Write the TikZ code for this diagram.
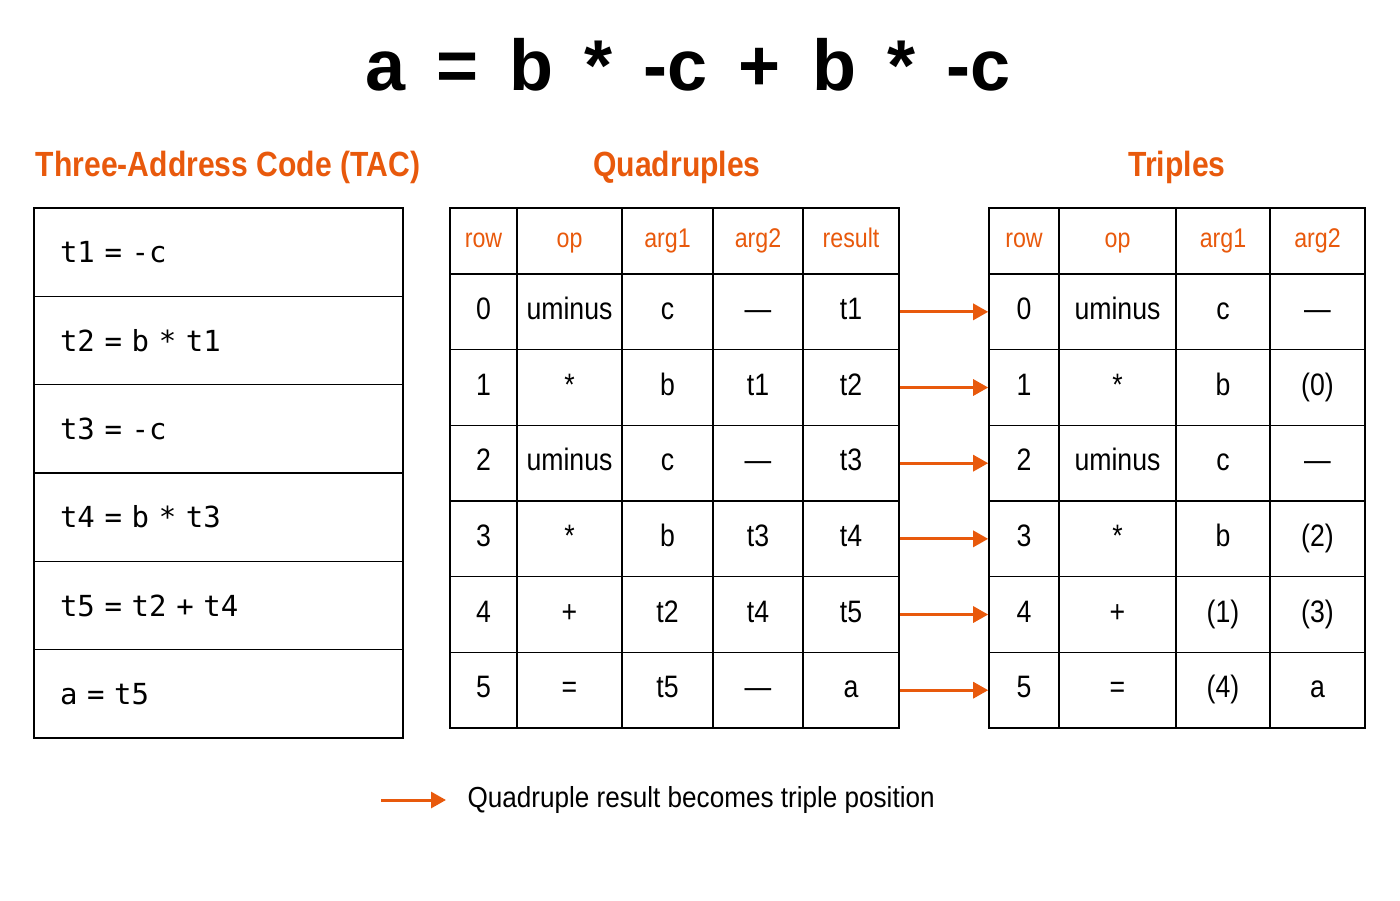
\documentclass[tikz,border=0pt]{standalone}
\usepackage{fontspec}
\setmainfont{Liberation Sans}[FakeStretch=0.86]
\newfontfamily\titlefont{Liberation Sans}[WordSpace=1.55]
\newfontfamily\legfont{Liberation Sans}[FakeStretch=0.9]
\setmonofont{DejaVu Sans Mono}[WordSpace=1.3]
\usetikzlibrary{arrows.meta}
\definecolor{org}{HTML}{E8590C}
\begin{document}
\begin{tikzpicture}[x=1pt,y=-1pt,
  cell/.style={draw=black,line width=1.6pt,rectangle,inner sep=0pt,text height=21pt,text depth=6pt,font=\fontsize{31}{33}\selectfont},
  hcell/.style={cell,text=org,text height=19pt,text depth=6pt,font=\fontsize{27}{29}\selectfont},
  head/.style={text=org,font=\bfseries\fontsize{35}{37}\selectfont},
  tac/.style={draw=black,line width=1.6pt,minimum width=369pt,minimum height=88.33pt,text width=317pt,align=left,inner sep=0pt,font=\ttfamily\fontsize{29}{31}\selectfont},
  arr/.style={draw=org,line width=3pt,-{Triangle[length=15pt,width=16pt]}}]
\useasboundingbox (0,0) rectangle (1400,900);
\node[font=\titlefont\bfseries\fontsize{72}{74}\selectfont] (title) at (688,65) {a = b * -c + b * -c};
\node[head] (h1) at (228,167) {Three-Address Code (TAC)};
\node[head] (h2) at (677,167) {Quadruples};
\node[head] (h3) at (1177,167) {Triples};
% TAC
\foreach \t [count=\i from 0] in {t1 = -c,t2 = b * t1,t3 = -c,t4 = b * t3,t5 = t2 + t4,a = t5}
  \node[tac] (tac-\i) at (218.5,{208+88.33*(\i+0.5)}) {\t};
% headers
\foreach \x/\w/\t [count=\c] in {483.5/67/row,569.5/105/op,667.5/91/arg1,758/90/arg2,851/96/result}
  \node[hcell,minimum width=\w pt,minimum height=66pt] (q-h-\c) at (\x,241) {\t};
\foreach \x/\w/\t [count=\c] in {1024/70/row,1117.5/117/op,1223/94/arg1,1317.5/95/arg2}
  \node[hcell,minimum width=\w pt,minimum height=66pt] (t-h-\c) at (\x,241) {\t};
% rows
\foreach \r/\a/\b/\cc/\d/\e in {0/0/uminus/c/—/t1,1/1/*/b/t1/t2,2/2/uminus/c/—/t3,3/3/*/b/t3/t4,4/4/+/t2/t4/t5,5/5/=/t5/—/a}{
  \foreach \x/\w/\t [count=\c] in {483.5/67/\a,569.5/105/\b,667.5/91/\cc,758/90/\d,851/96/\e}
    \node[cell,minimum width=\w pt,minimum height=75.67pt] (q-\r-\c) at (\x,{274+75.67*(\r+0.5)}) {\t};
}
\foreach \r/\a/\b/\cc/\d in {0/0/uminus/c/—,1/1/*/b/(0),2/2/uminus/c/—,3/3/*/b/(2),4/4/+/(1)/(3),5/5/=/(4)/a}{
  \foreach \x/\w/\t [count=\c] in {1024/70/\a,1117.5/117/\b,1223/94/\cc,1317.5/95/\d}
    \node[cell,minimum width=\w pt,minimum height=75.67pt] (t-\r-\c) at (\x,{274+75.67*(\r+0.5)}) {\t};
}
\foreach \r in {0,...,5}
  \draw[arr] (q-\r-5.east) -- (t-\r-1.west);
% legend
\coordinate (la) at (381,800);
\node[anchor=west,font=\legfont\fontsize{29}{31}\selectfont] (leg) at (464,800) {Quadruple result becomes triple position};
\draw[arr] (la) -- ([xshift=-18pt]leg.west);
\end{tikzpicture}
\end{document}
